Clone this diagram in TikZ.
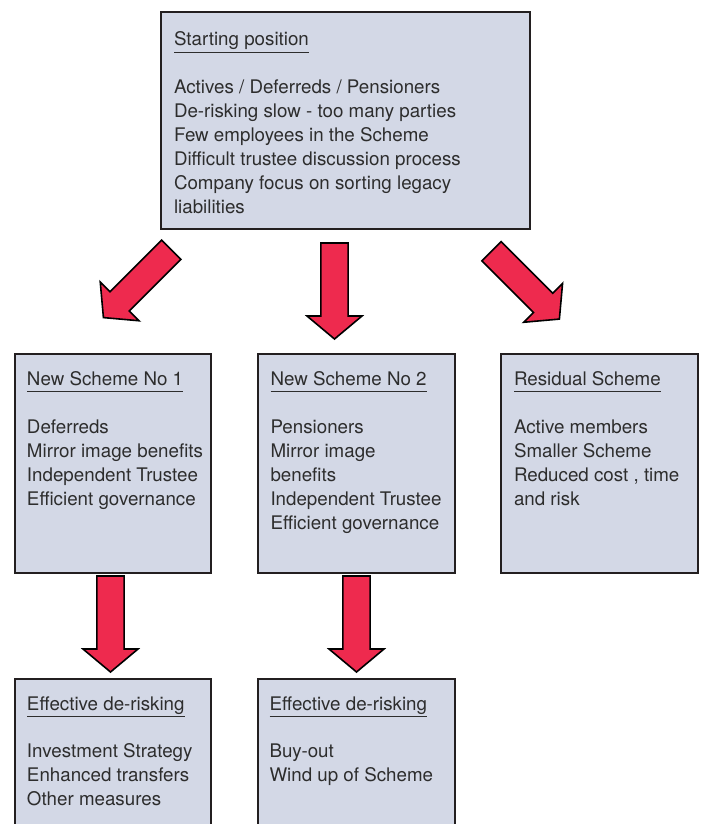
\documentclass[tikz,border=0pt]{standalone}
\usepackage{fontspec}
\setmainfont{TeX Gyre Heros}
\definecolor{boxfill}{RGB}{211,216,230}
\definecolor{boxline}{RGB}{35,31,32}
\definecolor{arrred}{RGB}{238,42,78}
\definecolor{txtcol}{RGB}{45,45,45}
\tikzset{
  panel/.style={draw=boxline, line width=2pt, fill=boxfill, rectangle, inner sep=0pt, outer sep=0pt, anchor=north west},
  boxtext/.style={anchor=base west, inner sep=0pt, outer sep=0pt, font=\fontsize{18.75}{24}\selectfont, text=txtcol},
  uline/.style={draw=txtcol, line width=1.3pt},
  blockarrow/.style={fill=arrred, draw=black, line width=1.6pt, line join=miter}
}
\newcommand\BlkArrowShape{\path[blockarrow] (-13.6,0) -- (13.6,0) -- (13.6,73) -- (27.5,73) -- (0,96) -- (-27.5,73) -- (-13.6,73) -- cycle;}
\begin{document}
\begin{tikzpicture}[x=1pt,y=-1pt]
\useasboundingbox (0,0) rectangle (704,824);
\clip (0,0) rectangle (704,824);
\fill[white] (0,0) rectangle (704,824);

% boxes
\node[panel, minimum width=369pt, minimum height=217pt] (start) at (161,12) {};
\node[panel, minimum width=196pt, minimum height=219pt] (ns1) at (15,354) {};
\node[panel, minimum width=197pt, minimum height=219pt] (ns2) at (258,354) {};
\node[panel, minimum width=197pt, minimum height=219pt] (res) at (501,354) {};
\node[panel, minimum width=196pt, minimum height=180pt] (der1) at (15,679) {};
\node[panel, minimum width=197pt, minimum height=180pt] (der2) at (258,679) {};

% titles
\node[boxtext] (t0) at (174,45.7) {Starting position};
\node[boxtext] (t1) at (27,385) {New Scheme No 1};
\node[boxtext] (t2) at (270.5,385) {New Scheme No 2};
\node[boxtext] (t3) at (514,385) {Residual Scheme};
\node[boxtext] (t4) at (27,710) {Effective de-risking};
\node[boxtext] (t5) at (269.5,710) {Effective de-risking};
\foreach \t in {t0,t1,t2,t3,t4,t5}
  \draw[uline] ([yshift=-6.6pt]\t.base west) -- ([yshift=-6.6pt]\t.base east);

% body lines
\foreach \s [count=\i] in {Actives / Deferreds / Pensioners, De-risking slow - too many parties, Few employees in the Scheme, Difficult trustee discussion process, Company focus on sorting legacy, liabilities}
  \node[boxtext] (a\i) at (174,69.5+24*\i) {\s};
\foreach \s [count=\i] in {Deferreds, Mirror image benefits, Independent Trustee, Efficient governance}
  \node[boxtext] (b\i) at (27,409+24*\i) {\s};
\foreach \s [count=\i] in {Pensioners, Mirror image, benefits, Independent Trustee, Efficient governance}
  \node[boxtext] (c\i) at (270.5,409+24*\i) {\s};
\foreach \s [count=\i] in {Active members, Smaller Scheme, {Reduced cost , time}, and risk}
  \node[boxtext] (d\i) at (514,409+24*\i) {\s};
\foreach \s [count=\i] in {Investment Strategy, Enhanced transfers, Other measures}
  \node[boxtext] (e\i) at (27,733.7+24*\i) {\s};
\foreach \s [count=\i] in {Buy-out, Wind up of Scheme}
  \node[boxtext] (f\i) at (269.5,733.7+24*\i) {\s};

% arrows (start -> ns1, ns2, res; ns1 -> der1; ns2 -> der2)
\begin{scope}[shift={(171.3,249.7)}, rotate=-45] \BlkArrowShape \end{scope}
\begin{scope}[shift={(334.5,243)}] \BlkArrowShape \end{scope}
\begin{scope}[shift={(491.5,251.2)}, rotate=45] \BlkArrowShape \end{scope}
\begin{scope}[shift={(110.5,576)}] \BlkArrowShape \end{scope}
\begin{scope}[shift={(356.5,576)}] \BlkArrowShape \end{scope}
\end{tikzpicture}
\end{document}
